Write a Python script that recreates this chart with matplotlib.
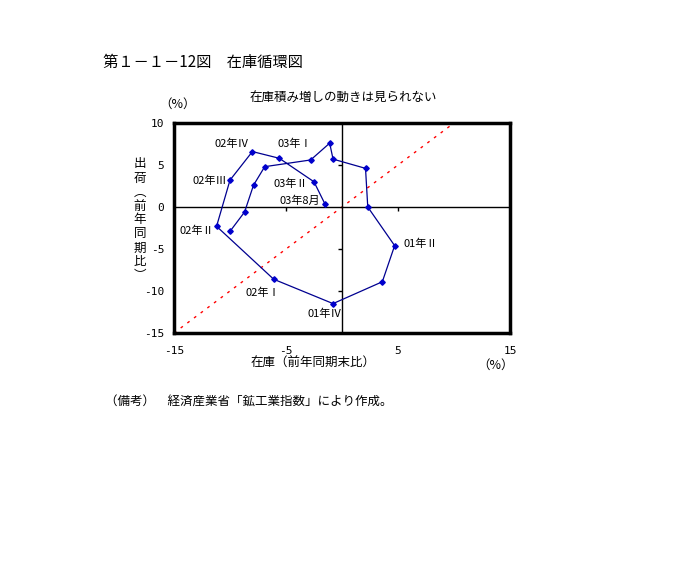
import numpy as np
import matplotlib.pyplot as plt

plt.rcParams['font.family'] = ['Noto Sans CJK JP', 'DejaVu Sans']

# 在庫（前年同期末比）と出荷（前年同期比）, 99年I期〜03年8月
zaiko = [-10.0, -8.7, -7.9, -6.9, -2.8, -1.1, -0.8, 2.1, 2.3, 4.7,
         3.6, -0.8, -6.1, -11.2, -10.0, -8.0, -5.6, -2.5, -1.5]
shukka = [-2.9, -0.6, 2.6, 4.8, 5.6, 7.6, 5.7, 4.6, 0.0, -4.6,
          -8.9, -11.5, -8.6, -2.3, 3.2, 6.6, 5.8, 3.0, 0.3]

# 点の注記
labels = ['02年Ⅳ', '03年Ⅰ', '02年Ⅲ', '03年Ⅱ', '03年8月', '02年Ⅱ', '01年Ⅱ', '02年Ⅰ', '01年Ⅳ']
label_x = [-9.8, -4.2, -11.8, -4.6, -3.8, -13.0, 7.0, -7.1, -1.5]
label_y = [7.5, 7.5, 3.1, 2.8, 0.75, -2.8, -4.4, -10.2, -12.7]

xticks = [-15, -5, 5, 15]
yticks = [10, 5, 0, -5, -10, -15]
diag = [-15, 10]

fig = plt.figure(figsize=(6.88, 5.69), dpi=100)
ax = fig.add_axes([174 / 688, 236 / 569, 336 / 688, 210 / 569])

ax.set_xlim(-15, 15)
ax.set_ylim(-15, 10)

# 45度線
ax.plot(diag, diag, color='red', linestyle=(0, (2, 4)), linewidth=1)
# 原点を通る軸
ax.axhline(0, color='black', linewidth=1)
ax.axvline(0, color='black', linewidth=1)
ax.plot([-5, 5], [0, 0], linestyle='none', marker=3, ms=3, color='black')
ax.plot([0, 0, 0], [5, -5, -10], linestyle='none', marker=0, ms=3, color='black')

ax.plot(zaiko, shukka, color='#000090', linewidth=0.9,
        marker='D', ms=2.8, mfc='#0000cc', mec='#0000cc')

for t, x, y in zip(labels, label_x, label_y):
    ax.text(x, y, t, fontsize=8, ha='center', va='center')

ax.set_xticks(xticks)
ax.set_yticks(yticks)
ax.set_xticklabels([str(v) for v in xticks], family='DejaVu Sans Mono')
ax.set_yticklabels([str(v) for v in yticks], family='DejaVu Sans Mono')
ax.tick_params(length=0, labelsize=8)
ax.tick_params(axis='x', pad=9)
ax.tick_params(axis='y', pad=7)
for s in ax.spines.values():
    s.set_linewidth(2.5)

fig.text(103 / 688, 1 - 62 / 569, '第１－１－12図　在庫循環図', fontsize=11, va='center')
fig.text(343 / 688, 1 - 98 / 569, '在庫積み増しの動きは見られない', fontsize=9, ha='center', va='center')
fig.text(178 / 688, 1 - 104 / 569, '（%）', fontsize=9, ha='center', va='center')
fig.text(140 / 688, 1 - 220 / 569, '\n'.join('出荷︵前年同期比︶'), fontsize=9,
         ha='center', va='center', linespacing=1.1)
fig.text(313 / 688, 1 - 363 / 569, '在庫（前年同期末比）', fontsize=9, ha='center', va='center')
fig.text(496 / 688, 1 - 365 / 569, '（%）', fontsize=9, ha='center', va='center')
fig.text(105 / 688, 1 - 402 / 569, '（備考）　経済産業省「鉱工業指数」により作成。', fontsize=9, va='center')

fig.savefig('out.png', dpi=100)
